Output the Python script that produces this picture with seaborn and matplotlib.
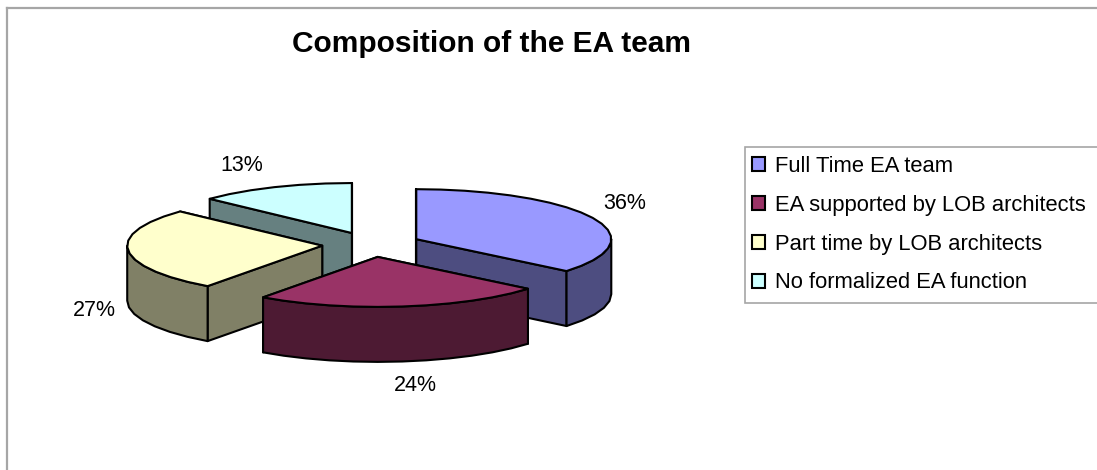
import numpy as np
import matplotlib.pyplot as plt
from matplotlib.patches import Patch, Polygon, Rectangle
import seaborn as sns

categories = ["Full Time EA team", "EA supported by LOB architects",
              "Part time by LOB architects", "No formalized EA function"]
shares = [36, 24, 27, 13]
top_colors = ["#9999FF", "#993366", "#FFFFCC", "#CCFFFF"]
side_colors = ["#4D4D80", "#4D1A33", "#808066", "#668080"]

# pie geometry, in pixels
CX, CY = 371.5, 244.5
RX, RY = 195, 50
DEPTH = 55
EXPLODE_X, EXPLODE_Y = 49.5, 12.5
ARC_STEP = 7
# label offsets from the rim at each slice's middle angle
label_nudge = [(32, -14), (13, 79), (-34, 60), (-33, -22)]

sns.set_theme(style="white", font="Liberation Sans")

fig = plt.figure(figsize=(10.97, 4.7), dpi=100)
ax = fig.add_axes([7 / 1097, 0, 1 - 7 / 1097, 1 - 8 / 470])
ax.set_xlim(7, 1097)
ax.set_ylim(470, 8)
ax.set_xticks([])
ax.set_yticks([])
sns.despine(ax=ax, top=False, right=True, bottom=True)
for side in ["left", "top"]:
    ax.spines[side].set_color("#A6A6A6")
    ax.spines[side].set_linewidth(1.6)


def rim(apex, angle):
    t = np.radians(angle)
    return np.column_stack([apex[0] + RX * np.sin(t), apex[1] - RY * np.cos(t)])


def arc(apex, a, b):
    n = max(int(abs(b - a) / ARC_STEP), 1) + 1
    return rim(apex, np.linspace(a, b, n))


def face(points, color, z):
    ax.add_patch(Polygon(points, closed=True, facecolor=color, edgecolor="black",
                         linewidth=1.5, joinstyle="round", zorder=z))


edges = np.cumsum([0] + shares) * 3.6
# back to front
draw_order = [3, 0, 2, 1]
for layer, i in enumerate(draw_order):
    a, b = edges[i], edges[i + 1]
    mid = np.radians((a + b) / 2)
    apex = np.array([CX + EXPLODE_X * np.sin(mid), CY - EXPLODE_Y * np.cos(mid)])
    z = 2 + layer
    down = np.array([0, DEPTH])

    # radial walls, the one further back first
    for ang in sorted([a, b], key=lambda v: -np.cos(np.radians(v))):
        p = rim(apex, ang)[0]
        face([apex, p, p + down, apex + down], side_colors[i], z)

    # outer wall, only the part that faces the viewer
    lo, hi = max(a, 90), min(b, 270)
    if hi > lo:
        curve = arc(apex, lo, hi)
        face(np.vstack([curve, curve[::-1] + down]), side_colors[i], z)

    face(np.vstack([[apex], arc(apex, a, b)]), top_colors[i], z)

    tip = rim(apex, (a + b) / 2)[0]
    ax.text(tip[0] + label_nudge[i][0], tip[1] + label_nudge[i][1], f"{shares[i]}%",
            fontsize=15.5, color="black", ha="center", va="center", zorder=20)

ax.text(492, 44, "Composition of the EA team", fontsize=21.5, fontweight="bold",
        color="black", ha="center", va="center")

# legend box runs off the right edge of the picture
ax.add_patch(Rectangle((745, 147), 400, 156, facecolor="white", edgecolor="#A6A6A6",
                       linewidth=1.2, zorder=1))
handles = [Patch(facecolor=c, edgecolor="black", linewidth=1.5) for c in top_colors]
leg = ax.legend(handles, categories, loc="upper left", bbox_to_anchor=(752, 156),
                bbox_transform=ax.transData, borderaxespad=0, borderpad=0, fontsize=15.8,
                frameon=False, handlelength=0.6, handleheight=0.6, handletextpad=0.45,
                labelspacing=0.81)
for t in leg.get_texts():
    t.set_color("black")

fig.savefig("out.png", dpi=100)
